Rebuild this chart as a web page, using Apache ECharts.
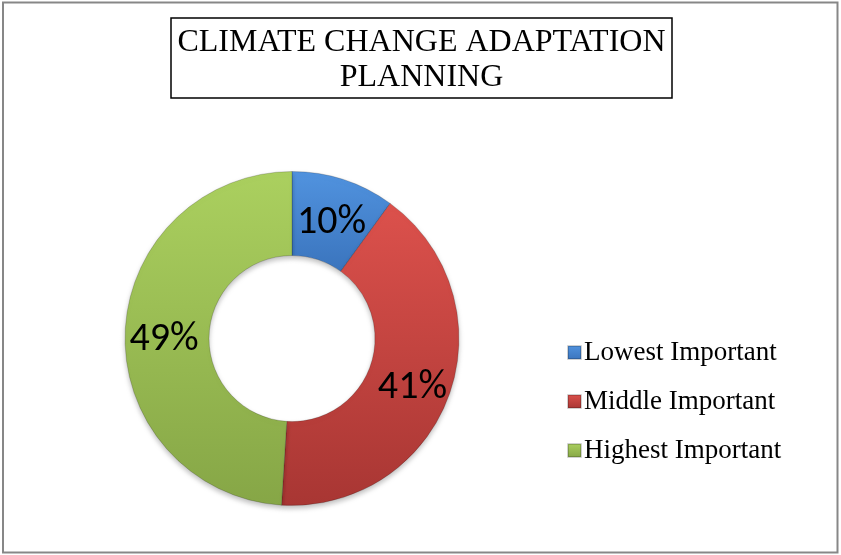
<!DOCTYPE html>
<html>
<head>
<meta charset="utf-8">
<title>Climate Change Adaptation Planning</title>
<script src="https://cdn.jsdelivr.net/npm/echarts@6/dist/echarts.min.js"></script>
<style>
  html, body { margin: 0; padding: 0; background: #ffffff; }
  #chart { width: 841px; height: 555px; }
</style>
</head>
<body>
<div id="chart"></div>
<script>
// Share of respondents by importance level (percent)
const categories = ['Lowest Important', 'Middle Important', 'Highest Important'];
const shares = [10, 41, 49];
const titleLines = ['CLIMATE CHANGE ADAPTATION', 'PLANNING'];

// Bevel-like vertical shading per slice: [top, bottom]
const sliceShades = [
  ['#5193df', '#3a74bd'],
  ['#dc514c', '#a83633'],
  ['#abd05f', '#86a646']
];

function shade(pair) {
  return new echarts.graphic.LinearGradient(0, 0, 0, 1, [
    { offset: 0, color: pair[0] },
    { offset: 1, color: pair[1] }
  ]);
}

const chart = echarts.init(document.getElementById('chart'), null, { renderer: 'canvas' });

chart.setOption({
  animation: false,
  backgroundColor: '#ffffff',
  title: {
    text: titleLines.join('\n'),
    left: 421.5,
    top: 25,
    textAlign: 'center',
    padding: 0,
    textStyle: {
      fontFamily: '"Liberation Serif", "Times New Roman", serif',
      fontWeight: 'normal',
      fontSize: 32,
      lineHeight: 35,
      color: '#000000'
    }
  },
  graphic: [
    {
      type: 'rect',
      silent: true,
      shape: { x: 3, y: 2.5, width: 834.5, height: 550 },
      style: { fill: null, stroke: '#878787', lineWidth: 2 }
    },
    {
      type: 'rect',
      silent: true,
      shape: { x: 171, y: 18, width: 501, height: 80 },
      style: { fill: null, stroke: '#000000', lineWidth: 1.5 }
    }
  ],
  legend: {
    orient: 'vertical',
    left: 562,
    top: 334,
    itemWidth: 13,
    itemHeight: 13,
    itemGap: 22,
    icon: 'rect',
    textStyle: {
      fontFamily: '"Liberation Serif", "Times New Roman", serif',
      fontSize: 27,
      lineHeight: 27,
      color: '#000000',
      padding: [0, 0, 0, -2]
    },
    data: categories
  },
  series: [
    {
      type: 'pie',
      center: [292, 338.5],
      radius: [83, 167],
      startAngle: 90,
      clockwise: true,
      avoidLabelOverlap: false,
      label: {
        show: true,
        position: 'inside',
        formatter: '{c}%',
        fontFamily: 'Carlito, Lato, "Liberation Sans", sans-serif',
        fontSize: 40,
        color: '#000000'
      },
      labelLayout: { dy: 6 },
      labelLine: { show: false },
      itemStyle: {
        borderColor: 'rgba(0,0,0,0.18)',
        borderWidth: 1,
        shadowBlur: 5,
        shadowOffsetY: 3,
        shadowColor: 'rgba(0,0,0,0.25)'
      },
      emphasis: { disabled: true },
      data: categories.map((name, i) => ({
        name: name,
        value: shares[i],
        itemStyle: { color: shade(sliceShades[i]) }
      }))
    }
  ]
});
</script>
</body>
</html>
